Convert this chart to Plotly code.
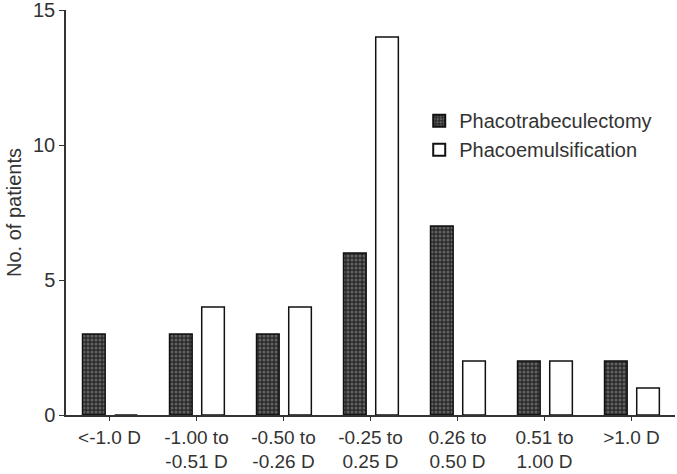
import plotly.graph_objects as go

categories = ["<-1.0 D", "-1.00 to<br>-0.51 D", "-0.50 to<br>-0.26 D", "-0.25 to<br>0.25 D",
              "0.26 to<br>0.50 D", "0.51 to<br>1.00 D", ">1.0 D"]
phacotrab = [3, 3, 3, 6, 7, 2, 2]
phacoemul = [0, 4, 4, 14, 2, 2, 1]
y_ticks = [0, 5, 10, 15]

fig = go.Figure()
fig.add_trace(go.Bar(
    x=categories, y=phacotrab, name="Phacotrabeculectomy",
    width=0.26, offset=-0.31,
    marker=dict(color="#3a3a3a", line=dict(color="#111", width=1.5),
                pattern=dict(shape=".", fgcolor="#9a9a9a", bgcolor="#2a2a2a",
                             size=4, solidity=0.45)),
))
fig.add_trace(go.Bar(
    x=categories, y=phacoemul, name="Phacoemulsification",
    width=0.26, offset=0.06,
    marker=dict(color="white", line=dict(color="#111", width=1.5)),
))

fam = "Liberation Sans, Arial, sans-serif"
fig.update_layout(
    width=677, height=474,
    margin=dict(l=66, r=2, t=10, b=59, autoexpand=False),
    plot_bgcolor="white", paper_bgcolor="white",
    font=dict(family=fam, size=19, color="#333"),
    barmode="overlay",
    showlegend=True,
    legend=dict(x=0.58, y=0.775, xanchor="left", yanchor="top",
                bgcolor="rgba(0,0,0,0)", font=dict(family=fam, size=20, color="#333"),
                tracegroupgap=0, itemsizing="constant"),
    xaxis=dict(range=[-0.5, 6.5], showline=True, linecolor="#333", linewidth=1.5,
               ticks="outside", ticklen=4, tickcolor="#333", tickwidth=1.2,
               showgrid=False, zeroline=False, automargin=False,
               tickfont=dict(family=fam, size=19, color="#333"),
               fixedrange=True),
    yaxis=dict(range=[0, 15], tickvals=y_ticks, showline=True, linecolor="#333",
               linewidth=1.5, ticks="outside", ticklen=5, tickcolor="#333",
               tickwidth=1.2, showgrid=False, zeroline=False, automargin=False,
               ticklabeloverflow="allow",
               tickfont=dict(family=fam, size=20, color="#333"),
               title=dict(text="No. of patients", font=dict(family=fam, size=20, color="#333"),
                          standoff=6)),
)

fig.write_html("out.html")
